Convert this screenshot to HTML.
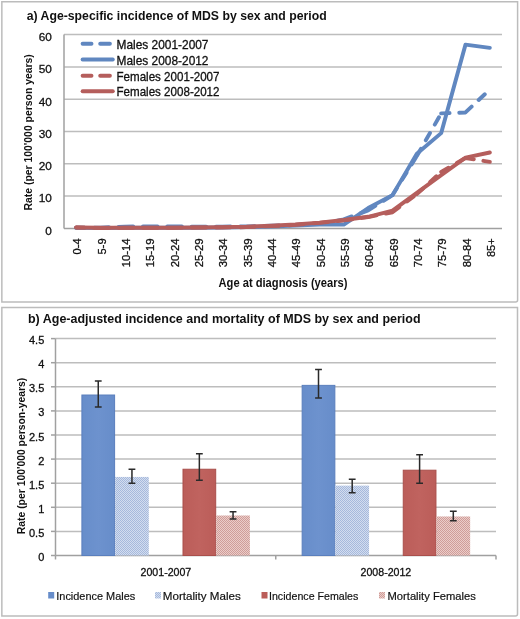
<!DOCTYPE html><html><head><meta charset="utf-8"><style>html,body{margin:0;padding:0;background:#fff;}svg{display:block;filter:blur(0.4px);}text{font-family:"Liberation Sans",sans-serif;} .r{stroke:#111;stroke-width:0.3px;} .r2{stroke:#111;stroke-width:0.18px;}</style></head><body>
<svg width="520" height="619" viewBox="0 0 520 619">
<defs><pattern id="pb" width="2" height="2" patternUnits="userSpaceOnUse"><rect width="2" height="2" fill="#d3ddef"/><rect width="1" height="1" fill="#a6b9dc"/><rect x="1" y="1" width="1" height="1" fill="#a6b9dc"/></pattern><pattern id="pr" width="2" height="2" patternUnits="userSpaceOnUse"><rect width="2" height="2" fill="#ebcdc9"/><rect width="1" height="1" fill="#cf9d99"/><rect x="1" y="1" width="1" height="1" fill="#cf9d99"/></pattern></defs>
<defs><linearGradient id="gb" x1="0" x2="1" y1="0" y2="0"><stop offset="0" stop-color="#678dca"/><stop offset="0.5" stop-color="#6d92ce"/><stop offset="1" stop-color="#678dca"/></linearGradient><linearGradient id="gr" x1="0" x2="1" y1="0" y2="0"><stop offset="0" stop-color="#bb5d59"/><stop offset="0.5" stop-color="#c0635f"/><stop offset="1" stop-color="#bb5d59"/></linearGradient></defs>
<rect width="520" height="619" fill="#fff"/>
<path d="M1.85 1.75H517.6V300.1Q517.6 302.1 515.6 302.1H1.85Z" fill="#fff" stroke="#bcbcbc" stroke-width="1.5"/>
<path d="M1.85 307.6H517.5V614.05Q517.5 616.05 515.5 616.05H1.85Z" fill="#fff" stroke="#bcbcbc" stroke-width="1.5"/>
<line x1="64.0" y1="196.10" x2="502.0" y2="196.10" stroke="#bdbdbd" stroke-width="1.5"/>
<line x1="64.0" y1="163.80" x2="502.0" y2="163.80" stroke="#bdbdbd" stroke-width="1.5"/>
<line x1="64.0" y1="131.50" x2="502.0" y2="131.50" stroke="#bdbdbd" stroke-width="1.5"/>
<line x1="64.0" y1="99.20" x2="502.0" y2="99.20" stroke="#bdbdbd" stroke-width="1.5"/>
<line x1="64.0" y1="66.90" x2="502.0" y2="66.90" stroke="#bdbdbd" stroke-width="1.5"/>
<line x1="64.0" y1="34.60" x2="502.0" y2="34.60" stroke="#bdbdbd" stroke-width="1.5"/>
<line x1="64.0" y1="34.60" x2="64.0" y2="228.4" stroke="#a0a0a0" stroke-width="1.5"/>
<line x1="64.0" y1="228.4" x2="502.0" y2="228.4" stroke="#a0a0a0" stroke-width="1.5"/>
<text class="r" x="51.8" y="234.70" font-size="11.8" fill="#111" text-anchor="end">0</text>
<text class="r" x="51.8" y="202.40" font-size="11.8" fill="#111" text-anchor="end">10</text>
<text class="r" x="51.8" y="170.10" font-size="11.8" fill="#111" text-anchor="end">20</text>
<text class="r" x="51.8" y="137.80" font-size="11.8" fill="#111" text-anchor="end">30</text>
<text class="r" x="51.8" y="105.50" font-size="11.8" fill="#111" text-anchor="end">40</text>
<text class="r" x="51.8" y="73.20" font-size="11.8" fill="#111" text-anchor="end">50</text>
<text class="r" x="51.8" y="40.90" font-size="11.8" fill="#111" text-anchor="end">60</text>
<text class="r" transform="translate(81.47,238.4) rotate(-90)" font-size="11.7" fill="#111" text-anchor="end" textLength="16.1" lengthAdjust="spacingAndGlyphs">0-4</text>
<text class="r" transform="translate(105.80,238.4) rotate(-90)" font-size="11.7" fill="#111" text-anchor="end" textLength="16.1" lengthAdjust="spacingAndGlyphs">5-9</text>
<text class="r" transform="translate(130.13,238.4) rotate(-90)" font-size="11.7" fill="#111" text-anchor="end" textLength="28.9" lengthAdjust="spacingAndGlyphs">10-14</text>
<text class="r" transform="translate(154.47,238.4) rotate(-90)" font-size="11.7" fill="#111" text-anchor="end" textLength="28.9" lengthAdjust="spacingAndGlyphs">15-19</text>
<text class="r" transform="translate(178.80,238.4) rotate(-90)" font-size="11.7" fill="#111" text-anchor="end" textLength="28.9" lengthAdjust="spacingAndGlyphs">20-24</text>
<text class="r" transform="translate(203.13,238.4) rotate(-90)" font-size="11.7" fill="#111" text-anchor="end" textLength="28.9" lengthAdjust="spacingAndGlyphs">25-29</text>
<text class="r" transform="translate(227.47,238.4) rotate(-90)" font-size="11.7" fill="#111" text-anchor="end" textLength="28.9" lengthAdjust="spacingAndGlyphs">30-34</text>
<text class="r" transform="translate(251.80,238.4) rotate(-90)" font-size="11.7" fill="#111" text-anchor="end" textLength="28.9" lengthAdjust="spacingAndGlyphs">35-39</text>
<text class="r" transform="translate(276.13,238.4) rotate(-90)" font-size="11.7" fill="#111" text-anchor="end" textLength="28.9" lengthAdjust="spacingAndGlyphs">40-44</text>
<text class="r" transform="translate(300.47,238.4) rotate(-90)" font-size="11.7" fill="#111" text-anchor="end" textLength="28.9" lengthAdjust="spacingAndGlyphs">45-49</text>
<text class="r" transform="translate(324.80,238.4) rotate(-90)" font-size="11.7" fill="#111" text-anchor="end" textLength="28.9" lengthAdjust="spacingAndGlyphs">50-54</text>
<text class="r" transform="translate(349.13,238.4) rotate(-90)" font-size="11.7" fill="#111" text-anchor="end" textLength="28.9" lengthAdjust="spacingAndGlyphs">55-59</text>
<text class="r" transform="translate(373.47,238.4) rotate(-90)" font-size="11.7" fill="#111" text-anchor="end" textLength="28.9" lengthAdjust="spacingAndGlyphs">60-64</text>
<text class="r" transform="translate(397.80,238.4) rotate(-90)" font-size="11.7" fill="#111" text-anchor="end" textLength="28.9" lengthAdjust="spacingAndGlyphs">65-69</text>
<text class="r" transform="translate(422.13,238.4) rotate(-90)" font-size="11.7" fill="#111" text-anchor="end" textLength="28.9" lengthAdjust="spacingAndGlyphs">70-74</text>
<text class="r" transform="translate(446.47,238.4) rotate(-90)" font-size="11.7" fill="#111" text-anchor="end" textLength="28.9" lengthAdjust="spacingAndGlyphs">75-79</text>
<text class="r" transform="translate(470.80,238.4) rotate(-90)" font-size="11.7" fill="#111" text-anchor="end" textLength="28.9" lengthAdjust="spacingAndGlyphs">80-84</text>
<text class="r" transform="translate(495.13,238.4) rotate(-90)" font-size="11.7" fill="#111" text-anchor="end" textLength="18.6" lengthAdjust="spacingAndGlyphs">85+</text>
<text x="283" y="286.5" font-size="12" font-weight="bold" fill="#111" text-anchor="middle" textLength="129" lengthAdjust="spacingAndGlyphs">Age at diagnosis (years)</text>
<text transform="translate(32,210.5) rotate(-90)" font-size="10.4" font-weight="bold" fill="#111" textLength="156.3" lengthAdjust="spacingAndGlyphs">Rate (per 100'000 person years)</text>
<text x="26.7" y="20" font-size="12.2" font-weight="bold" fill="#111" textLength="300" lengthAdjust="spacingAndGlyphs">a) Age-specific incidence of MDS by sex and period</text>
<path d="M76.17 227.75L100.50 227.59M100.50 227.59L124.83 226.62M124.83 226.62L149.17 226.46M149.17 226.46L173.50 226.46M173.50 226.46L197.83 226.78M197.83 226.78L222.17 226.62M222.17 226.62L246.50 226.46M246.50 226.46L270.83 225.65M270.83 225.65L295.17 224.85M295.17 224.85L319.50 223.88M319.50 223.88L343.83 219.36M343.83 219.36L368.17 210.31M368.17 210.31L392.50 195.13M392.50 195.13L416.83 156.05M416.83 156.05L441.17 113.41M441.17 113.41L465.50 112.44M465.50 112.44L489.83 89.51" fill="none" stroke="#6087c0" stroke-width="3.9" stroke-dasharray="8.4 9.7" stroke-linecap="round" stroke-linejoin="round"/>
<polyline points="76.17,227.75 100.50,228.08 124.83,227.75 149.17,227.75 173.50,227.75 197.83,227.75 222.17,227.43 246.50,227.11 270.83,226.46 295.17,225.49 319.50,224.52 343.83,224.52 368.17,208.05 392.50,195.13 416.83,153.79 441.17,133.12 465.50,44.61 489.83,47.84" fill="none" stroke="#6087c0" stroke-width="3.9" stroke-linecap="round" stroke-linejoin="round"/>
<path d="M76.17 227.43L100.50 228.08M100.50 228.08L124.83 227.75M124.83 227.75L149.17 227.75M149.17 227.75L173.50 227.75M173.50 227.75L197.83 227.43M197.83 227.43L222.17 227.43M222.17 227.43L246.50 227.11M246.50 227.11L270.83 226.14M270.83 226.14L295.17 224.85M295.17 224.85L319.50 222.91M319.50 222.91L343.83 220.33M343.83 220.33L368.17 217.09M368.17 217.09L392.50 212.25M392.50 212.25L416.83 194.16M416.83 194.16L441.17 171.88M441.17 171.88L465.50 157.99M465.50 157.99L489.83 161.86" fill="none" stroke="#b55e5c" stroke-width="3.9" stroke-dasharray="8.4 9.7" stroke-linecap="round" stroke-linejoin="round"/>
<polyline points="76.17,227.43 100.50,227.75 124.83,227.75 149.17,227.75 173.50,227.75 197.83,227.43 222.17,227.11 246.50,226.78 270.83,225.82 295.17,224.52 319.50,222.59 343.83,220.00 368.17,216.77 392.50,210.63 416.83,192.87 441.17,175.11 465.50,157.66 489.83,152.50" fill="none" stroke="#b55e5c" stroke-width="3.9" stroke-linecap="round" stroke-linejoin="round"/>
<line x1="82.6" y1="43.8" x2="91.5" y2="43.8" stroke="#6087c0" stroke-width="3.9" stroke-linecap="round"/>
<line x1="100.2" y1="43.8" x2="109.9" y2="43.8" stroke="#6087c0" stroke-width="3.9" stroke-linecap="round"/>
<text class="r" x="116.5" y="49.0" font-size="12.2" fill="#111" textLength="92" lengthAdjust="spacingAndGlyphs">Males 2001-2007</text>
<line x1="82.6" y1="59.5" x2="112.8" y2="59.5" stroke="#6087c0" stroke-width="3.9" stroke-linecap="round"/>
<text class="r" x="116.5" y="64.7" font-size="12.2" fill="#111" textLength="92" lengthAdjust="spacingAndGlyphs">Males 2008-2012</text>
<line x1="82.6" y1="75.7" x2="91.5" y2="75.7" stroke="#b55e5c" stroke-width="3.9" stroke-linecap="round"/>
<line x1="100.2" y1="75.7" x2="109.9" y2="75.7" stroke="#b55e5c" stroke-width="3.9" stroke-linecap="round"/>
<text class="r" x="116.5" y="80.9" font-size="12.2" fill="#111" textLength="103" lengthAdjust="spacingAndGlyphs">Females 2001-2007</text>
<line x1="82.6" y1="91.2" x2="112.8" y2="91.2" stroke="#b55e5c" stroke-width="3.9" stroke-linecap="round"/>
<text class="r" x="116.5" y="96.4" font-size="12.2" fill="#111" textLength="103" lengthAdjust="spacingAndGlyphs">Females 2008-2012</text>
<line x1="55.5" y1="531.40" x2="496.0" y2="531.40" stroke="#bdbdbd" stroke-width="1.5"/>
<line x1="55.5" y1="507.30" x2="496.0" y2="507.30" stroke="#bdbdbd" stroke-width="1.5"/>
<line x1="55.5" y1="483.20" x2="496.0" y2="483.20" stroke="#bdbdbd" stroke-width="1.5"/>
<line x1="55.5" y1="459.10" x2="496.0" y2="459.10" stroke="#bdbdbd" stroke-width="1.5"/>
<line x1="55.5" y1="435.00" x2="496.0" y2="435.00" stroke="#bdbdbd" stroke-width="1.5"/>
<line x1="55.5" y1="410.90" x2="496.0" y2="410.90" stroke="#bdbdbd" stroke-width="1.5"/>
<line x1="55.5" y1="386.80" x2="496.0" y2="386.80" stroke="#bdbdbd" stroke-width="1.5"/>
<line x1="55.5" y1="362.70" x2="496.0" y2="362.70" stroke="#bdbdbd" stroke-width="1.5"/>
<line x1="55.5" y1="338.60" x2="496.0" y2="338.60" stroke="#bdbdbd" stroke-width="1.5"/>
<line x1="51" y1="555.50" x2="55.5" y2="555.50" stroke="#a0a0a0" stroke-width="1.5"/>
<text class="r" x="44.3" y="561.00" font-size="11" fill="#111" text-anchor="end">0</text>
<line x1="51" y1="531.40" x2="55.5" y2="531.40" stroke="#a0a0a0" stroke-width="1.5"/>
<text class="r" x="44.3" y="536.90" font-size="11" fill="#111" text-anchor="end">0.5</text>
<line x1="51" y1="507.30" x2="55.5" y2="507.30" stroke="#a0a0a0" stroke-width="1.5"/>
<text class="r" x="44.3" y="512.80" font-size="11" fill="#111" text-anchor="end">1</text>
<line x1="51" y1="483.20" x2="55.5" y2="483.20" stroke="#a0a0a0" stroke-width="1.5"/>
<text class="r" x="44.3" y="488.70" font-size="11" fill="#111" text-anchor="end">1.5</text>
<line x1="51" y1="459.10" x2="55.5" y2="459.10" stroke="#a0a0a0" stroke-width="1.5"/>
<text class="r" x="44.3" y="464.60" font-size="11" fill="#111" text-anchor="end">2</text>
<line x1="51" y1="435.00" x2="55.5" y2="435.00" stroke="#a0a0a0" stroke-width="1.5"/>
<text class="r" x="44.3" y="440.50" font-size="11" fill="#111" text-anchor="end">2.5</text>
<line x1="51" y1="410.90" x2="55.5" y2="410.90" stroke="#a0a0a0" stroke-width="1.5"/>
<text class="r" x="44.3" y="416.40" font-size="11" fill="#111" text-anchor="end">3</text>
<line x1="51" y1="386.80" x2="55.5" y2="386.80" stroke="#a0a0a0" stroke-width="1.5"/>
<text class="r" x="44.3" y="392.30" font-size="11" fill="#111" text-anchor="end">3.5</text>
<line x1="51" y1="362.70" x2="55.5" y2="362.70" stroke="#a0a0a0" stroke-width="1.5"/>
<text class="r" x="44.3" y="368.20" font-size="11" fill="#111" text-anchor="end">4</text>
<line x1="51" y1="338.60" x2="55.5" y2="338.60" stroke="#a0a0a0" stroke-width="1.5"/>
<text class="r" x="44.3" y="344.10" font-size="11" fill="#111" text-anchor="end">4.5</text>
<line x1="55.5" y1="338.60" x2="55.5" y2="555.5" stroke="#a0a0a0" stroke-width="1.5"/>
<line x1="55.5" y1="555.5" x2="496.0" y2="555.5" stroke="#a0a0a0" stroke-width="1.5"/>
<line x1="55.50" y1="555.5" x2="55.50" y2="559.5" stroke="#a0a0a0" stroke-width="1.5"/>
<line x1="275.75" y1="555.5" x2="275.75" y2="559.5" stroke="#a0a0a0" stroke-width="1.5"/>
<line x1="496.00" y1="555.5" x2="496.00" y2="559.5" stroke="#a0a0a0" stroke-width="1.5"/>
<rect x="81.90" y="395.01" width="32.7" height="160.49" fill="url(#gb)" stroke="#5a7fbd" stroke-width="1"/>
<rect x="115.10" y="476.93" width="33.7" height="78.57" fill="url(#pb)"/>
<rect x="183.00" y="469.24" width="32.7" height="86.26" fill="url(#gr)" stroke="#a94f4b" stroke-width="1"/>
<rect x="216.20" y="515.49" width="33.7" height="40.01" fill="url(#pr)"/>
<rect x="302.15" y="385.37" width="32.7" height="170.13" fill="url(#gb)" stroke="#5a7fbd" stroke-width="1"/>
<rect x="335.35" y="485.61" width="33.7" height="69.89" fill="url(#pb)"/>
<rect x="403.25" y="470.20" width="32.7" height="85.30" fill="url(#gr)" stroke="#a94f4b" stroke-width="1"/>
<rect x="436.45" y="516.46" width="33.7" height="39.04" fill="url(#pr)"/>
<path d="M98.25 381.02V407.04M94.85 381.02h6.8M94.85 407.04h6.8" stroke="#2a2a2a" stroke-width="1.5" fill="none"/>
<path d="M131.95 469.22V483.20M128.55 469.22h6.8M128.55 483.20h6.8" stroke="#2a2a2a" stroke-width="1.5" fill="none"/>
<path d="M199.35 453.80V480.31M195.95 453.80h6.8M195.95 480.31h6.8" stroke="#2a2a2a" stroke-width="1.5" fill="none"/>
<path d="M233.05 511.64V519.11M229.65 511.64h6.8M229.65 519.11h6.8" stroke="#2a2a2a" stroke-width="1.5" fill="none"/>
<path d="M318.50 369.45V397.89M315.10 369.45h6.8M315.10 397.89h6.8" stroke="#2a2a2a" stroke-width="1.5" fill="none"/>
<path d="M352.20 479.34V492.84M348.80 479.34h6.8M348.80 492.84h6.8" stroke="#2a2a2a" stroke-width="1.5" fill="none"/>
<path d="M419.60 454.76V483.20M416.20 454.76h6.8M416.20 483.20h6.8" stroke="#2a2a2a" stroke-width="1.5" fill="none"/>
<path d="M453.30 511.16V520.80M449.90 511.16h6.8M449.90 520.80h6.8" stroke="#2a2a2a" stroke-width="1.5" fill="none"/>
<text class="r" x="165.9" y="575.8" font-size="10.9" fill="#111" text-anchor="middle" textLength="50.7" lengthAdjust="spacingAndGlyphs">2001-2007</text>
<text class="r" x="385.9" y="575.8" font-size="10.9" fill="#111" text-anchor="middle" textLength="50.7" lengthAdjust="spacingAndGlyphs">2008-2012</text>
<text transform="translate(25,534.2) rotate(-90)" font-size="10.2" font-weight="bold" fill="#111" textLength="156.4" lengthAdjust="spacingAndGlyphs">Rate (per 100'000 person-years)</text>
<text x="28" y="323.4" font-size="12.2" font-weight="bold" fill="#111" textLength="392.5" lengthAdjust="spacingAndGlyphs">b) Age-adjusted incidence and mortality of MDS by sex and period</text>
<rect x="48.2" y="592" width="6" height="6.5" fill="#678dca"/>
<text class="r2" x="56.3" y="599.8" font-size="11" fill="#111" textLength="78.9" lengthAdjust="spacingAndGlyphs">Incidence Males</text>
<rect x="155" y="592" width="6" height="6.5" fill="url(#pb)"/>
<text class="r2" x="162.8" y="599.8" font-size="11" fill="#111" textLength="78.0" lengthAdjust="spacingAndGlyphs">Mortality Males</text>
<rect x="261.5" y="592" width="6" height="6.5" fill="#bb5d59"/>
<text class="r2" x="269" y="599.8" font-size="11" fill="#111" textLength="89.3" lengthAdjust="spacingAndGlyphs">Incidence Females</text>
<rect x="379" y="592" width="6" height="6.5" fill="url(#pr)"/>
<text class="r2" x="387.5" y="599.8" font-size="11" fill="#111" textLength="88.3" lengthAdjust="spacingAndGlyphs">Mortality Females</text>
</svg></body></html>
